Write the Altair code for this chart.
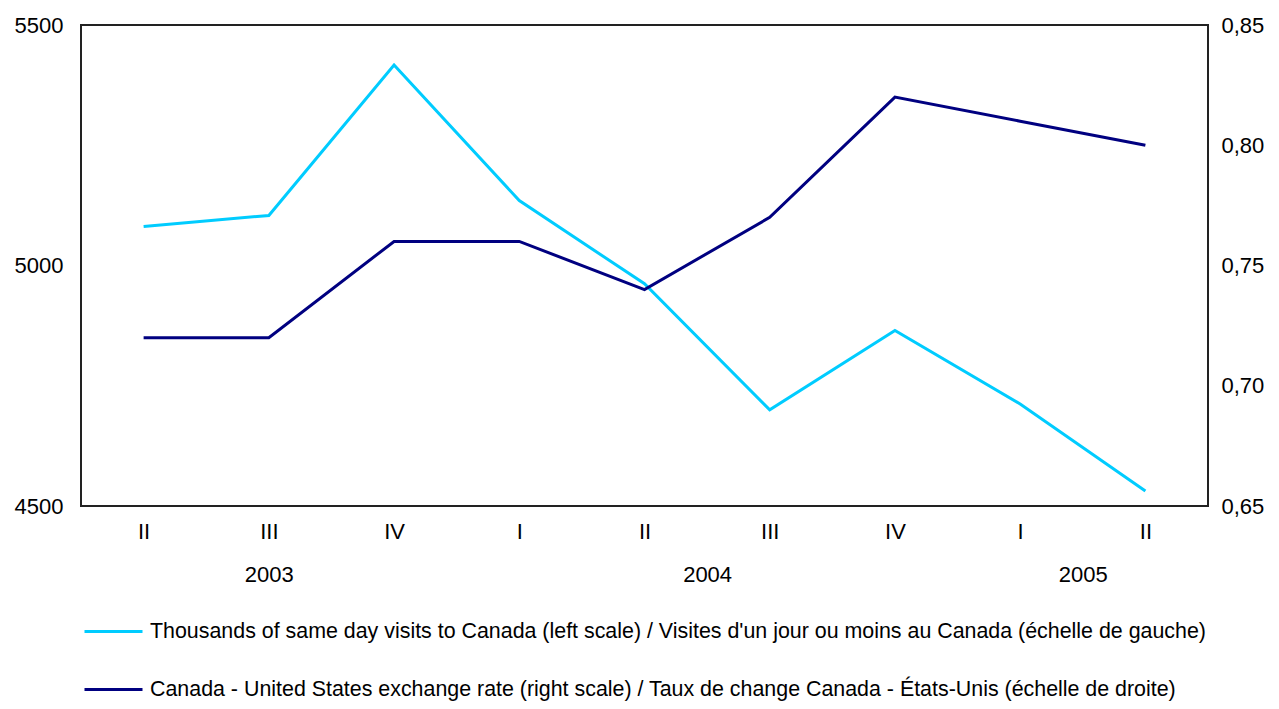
import json
import altair as alt
import pandas as pd

quarters = ["II", "III", "IV", "I", "II", "III", "IV", "I", "II"]
years = [2003, 2003, 2003, 2004, 2004, 2004, 2004, 2005, 2005]
visits = [5081, 5104, 5417, 5135, 4962, 4700, 4865, 4712, 4531]
rate = [0.72, 0.72, 0.76, 0.76, 0.74, 0.77, 0.82, 0.81, 0.80]

s1 = "Thousands of same day visits to Canada (left scale) / Visites d'un jour ou moins au Canada (échelle de gauche)"
s2 = "Canada - United States exchange rate (right scale) / Taux de change Canada - États-Unis (échelle de droite)"

idx = list(range(len(quarters)))
df = pd.DataFrame({"i": idx, "q": quarters, "year": years, "visits": visits, "rate": rate})

year_list = sorted(set(years))
centers = []
for yr in year_list:
    ii = [i for i in idx if years[i] == yr]
    centers.append(sum(ii) / len(ii))

q_expr = "[" + ",".join("'%s'" % q for q in quarters) + "][datum.value]"
y_expr = "''"
for c, yr in zip(reversed(centers), reversed(year_list)):
    y_expr = "datum.value == %s ? '%s' : (%s)" % (c, yr, y_expr)

FONT = "Liberation Sans"
FS = 22
LFS = 21.4
W, H = 1127, 481

xscale = alt.Scale(domain=[-0.5, len(quarters) - 0.5], nice=False, zero=False)
color_scale = alt.Scale(domain=[s1, s2], range=["#00CCFF", "#000080"])
legend = alt.Legend(
    orient="none", legendX=2, legendY=576, direction="vertical", title=None,
    symbolType="stroke", symbolStrokeWidth=3, symbolSize=3364, padding=0,
    labelFont=FONT, labelFontSize=LFS, labelColor="#000", labelLimit=0,
    labelOffset=6, rowPadding=17,
)

base = alt.Chart(df)

l1 = base.mark_line(strokeWidth=3).transform_calculate(series=json.dumps(s1)).encode(
    x=alt.X("i:Q", scale=xscale, axis=alt.Axis(
        values=idx, labelExpr=q_expr, title=None, ticks=False, tickSize=0, domain=False,
        grid=False, labelPadding=15, labelFont=FONT, labelFontSize=FS, labelColor="#000")),
    y=alt.Y("visits:Q", scale=alt.Scale(domain=[4500, 5500], nice=False, zero=False),
            axis=alt.Axis(values=[4500, 5000, 5500], format="d", title=None, ticks=False,
                          tickSize=0, domain=False, grid=False, labelPadding=18,
                          labelFont=FONT, labelFontSize=FS, labelColor="#000", orient="left")),
    color=alt.Color("series:N", scale=color_scale, legend=legend),
)

l2 = base.mark_line(strokeWidth=3).transform_calculate(series=json.dumps(s2)).encode(
    x=alt.X("i:Q", scale=xscale, axis=alt.Axis(
        values=centers, labelExpr=y_expr, title=None, ticks=False, tickSize=0, domain=False,
        grid=False, labelPadding=58, labelFont=FONT, labelFontSize=FS, labelColor="#000",
        orient="bottom")),
    y=alt.Y("rate:Q", scale=alt.Scale(domain=[0.65, 0.85], nice=False, zero=False),
            axis=alt.Axis(values=[0.65, 0.70, 0.75, 0.80, 0.85], title=None, ticks=False,
                          tickSize=0, domain=False, grid=False, labelPadding=13,
                          labelFont=FONT, labelFontSize=FS, labelColor="#000", orient="right",
                          labelExpr="replace(format(datum.value, '.2f'), '.', ',')")),
    color=alt.Color("series:N", scale=color_scale, legend=legend),
)

chart = alt.layer(l1, l2).resolve_scale(y="independent").resolve_axis(
    x="independent", y="independent"
).properties(
    width=W, height=H,
    background="white",
    autosize=alt.AutoSizeParams(type="none"),
    padding={"left": 73, "top": 17, "right": 62, "bottom": 195},
).configure_view(stroke="#222", strokeWidth=2)

chart.save("out.html", embed_options={"renderer": "svg", "actions": False})
